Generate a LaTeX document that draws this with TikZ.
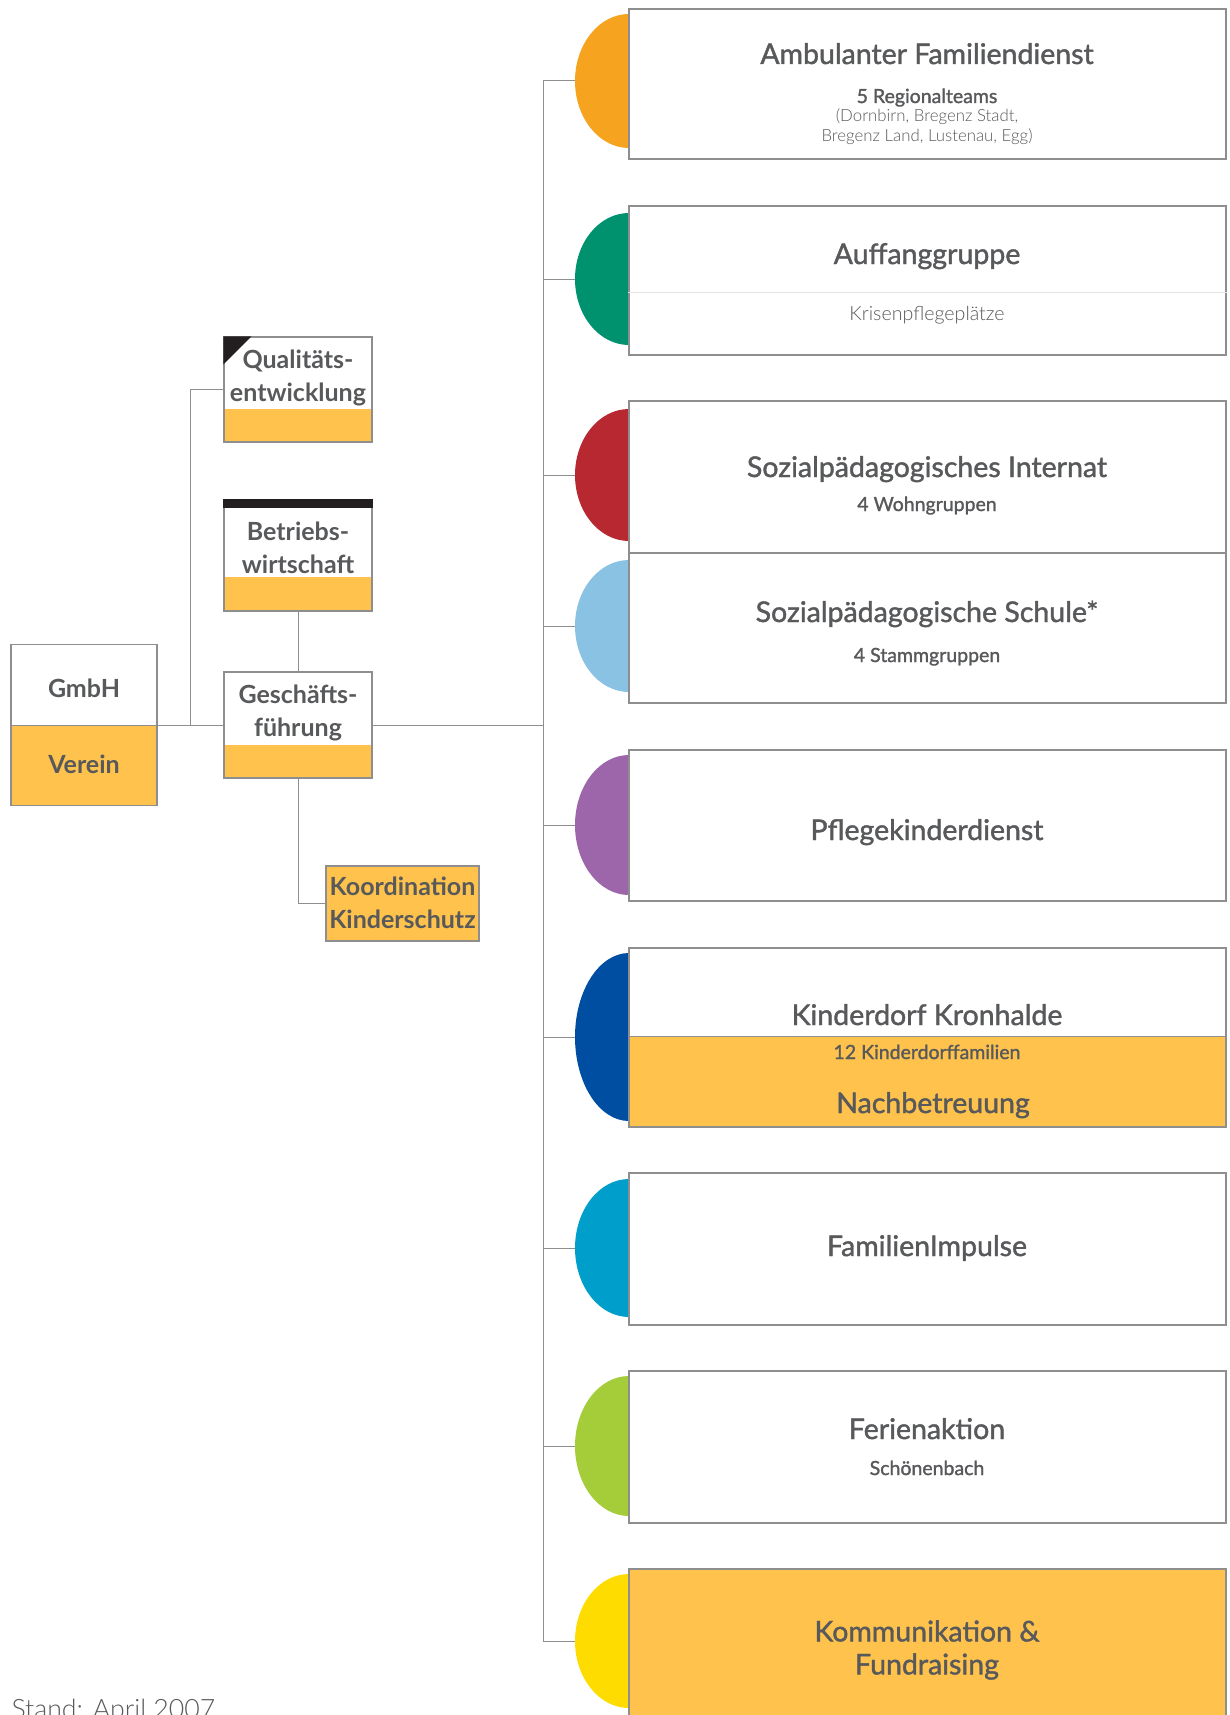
\documentclass[tikz,border=0pt]{standalone}
\usepackage{fontspec}
\setmainfont{Lato}
\newfontfamily\kdmed[FakeBold=1.4]{Lato}
\newfontfamily\kdlight{Lato Light}
\usetikzlibrary{shapes.geometric}
\usetikzlibrary{positioning}
\usepackage{xcolor}

\definecolor{kdorange}{HTML}{FEC24D}
\definecolor{kdtext}{HTML}{58595B}
\definecolor{kdline}{HTML}{8E8E8E}
\definecolor{kdsep}{HTML}{E2E2E2}
\definecolor{kdblack}{HTML}{231F20}
\definecolor{dotOrange}{HTML}{F6A41F}
\definecolor{dotGreen}{HTML}{00926F}
\definecolor{dotRed}{HTML}{B72830}
\definecolor{dotSky}{HTML}{8AC2E3}
\definecolor{dotPurple}{HTML}{9E66AA}
\definecolor{dotBlue}{HTML}{004EA2}
\definecolor{dotCyan}{HTML}{009FCB}
\definecolor{dotLime}{HTML}{A5CD39}
\definecolor{dotYellow}{HTML}{FFDC00}

\tikzset{
  rbox/.style={draw=kdline, line width=1.2pt, fill=white, minimum width=597pt, minimum height=#1, inner sep=0pt},
  lbox/.style={draw=kdline, line width=1.2pt, fill=white, minimum width=148pt, minimum height=#1, inner sep=0pt},
  foot/.style={path picture={\fill[kdorange] (path picture bounding box.south west) rectangle ([yshift=#1]path picture bounding box.south east);}},
  dot/.style={ellipse, fill=#1, minimum width=108pt, minimum height=134pt, inner sep=0pt},
  conn/.style={draw=kdline, line width=1pt},
  ttl/.style={text=kdtext, font=\kdmed\fontsize{28.5}{33}\selectfont, text height=20pt, text depth=0pt},
  subttl/.style={text=kdtext, font=\kdmed\fontsize{19.5}{23}\selectfont, text height=14pt, text depth=0pt},
  lighttxt/.style={text=kdtext, font=\kdlight\fontsize{#1}{1.2\dimexpr#1pt\relax}\selectfont, align=center},
  ltxt/.style={text=kdtext, font=\bfseries\fontsize{25}{33}\selectfont, align=center, inner sep=0pt},
}

\begin{document}
\begin{tikzpicture}[x=1pt, y=-1pt]
\useasboundingbox (0,0) rectangle (1230,1715);

% coloured half circles behind the boxes
\foreach \n/\y/\h/\c in {afd/81/134/dotOrange, auf/279/132/dotGreen, ipd/475/132/dotRed, sps/626/132/dotSky, pkd/825/140/dotPurple, kdk/1037/168/dotBlue, fip/1248/138/dotCyan, fer/1446/140/dotLime, kom/1641/134/dotYellow}
  \node[dot=\c, minimum height=\h pt] (dot\n) at (629,\y) {};

% service boxes
\node[rbox=150pt] (afd) at (927.5,84) {};
\node[rbox=149pt] (auf) at (927.5,280.5) {};
\node[rbox=152pt] (ipd) at (927.5,477) {};
\node[rbox=150pt] (sps) at (927.5,628) {};
\node[rbox=151pt] (pkd) at (927.5,825.5) {};
\node[rbox=179pt, foot=91pt] (kdk) at (927.5,1037.5) {};
\node[rbox=152pt] (fip) at (927.5,1249) {};
\node[rbox=152pt] (fer) at (927.5,1447) {};
\node[rbox=182pt, fill=kdorange] (kom) at (927.5,1660) {};

\draw[draw=kdsep, line width=1.5pt] ([yshift=-87pt]auf.north west) -- ([yshift=-87pt]auf.north east);
\draw[conn] ([yshift=91pt]kdk.south west) -- ([yshift=91pt]kdk.south east);

\node[ttl] (afdT) at (927,54) {Ambulanter Familiendienst};
\node[subttl] (afdS) at (927,96) {5 Regionalteams};
\node[lighttxt=16.8] (afdL) at (927,127) {(Dornbirn, Bregenz Stadt,\\Bregenz Land, Lustenau, Egg)};
\node[ttl] (aufT) at (927,254) {Auffanggruppe};
\node[lighttxt=19.6] (aufL) at (927,315) {Krisenpflegeplätze};
\node[ttl] (ipdT) at (927,467) {Sozialpädagogisches Internat};
\node[subttl] (ipdS) at (927,504) {4 Wohngruppen};
\node[ttl] (spsT) at (927,612) {Sozialpädagogische Schule*};
\node[subttl] (spsS) at (927,655) {4 Stammgruppen};
\node[ttl] (pkdT) at (927,830) {Pflegekinderdienst};
\node[ttl] (kdkT) at (927,1015) {Kinderdorf Kronhalde};
\node[subttl] (kdkS) at (927,1052) {12 Kinderdorffamilien};
\node[ttl] (kdkN) at (933,1103) {Nachbetreuung};
\node[ttl] (fipT) at (927,1246) {FamilienImpulse};
\node[ttl] (ferT) at (927,1429) {Ferienaktion};
\node[subttl] (ferS) at (927,1468) {Schönenbach};
\node[ttl, align=center, text height=, text depth=] (komT) at (927,1650) {Kommunikation \&\\Fundraising};

% left side
\node[lbox=161pt, minimum width=146pt, foot=81pt] (gmbh) at (84,725) {};
\draw[conn] ([yshift=81pt]gmbh.south west) -- ([yshift=81pt]gmbh.south east);
\node[ltxt] (gmbhT) at (84,688) {GmbH};
\node[ltxt] (vereinT) at (84,764) {Verein};

\node[lbox=105pt, foot=33pt] (qual) at (298,389.5) {};
\fill[kdblack] (qual.north west) -- ++(28,0) -- ++(-28,28) -- cycle;
\node[ltxt] (qualT) at (298,378) {Qualitäts-\\entwicklung};

\node[lbox=111pt, foot=34pt] (bw) at (298,555.5) {};
\fill[kdblack] (bw.north west) rectangle ([yshift=-9pt]bw.north east);
\node[ltxt] (bwT) at (298,548) {Betriebs-\\wirtschaft};

\node[lbox=106pt, foot=33pt] (gf) at (298,725) {};
\node[ltxt] (gfT) at (298,713) {Geschäfts-\\führung};

\node[lbox=75pt, minimum width=153pt, fill=kdorange] (koord) at (402.5,903.5) {};
\node[ltxt] (koordT) at (402.5,903) {Koordination\\Kinderschutz};

% connectors
\coordinate (trunk) at (543,0);
\coordinate (jq) at (190,725);
\draw[conn] (gmbh.east) -- (gf.west);
\draw[conn] (jq) |- (qual.west);
\draw[conn] (bw.south) -- (gf.north);
\draw[conn] (gf.south) |- (koord.west);
\draw[conn] (gf.east) -- (gf.east -| trunk);
\draw[conn] (dotafd.west -| trunk) -- (dotkom.west -| trunk);
\foreach \n in {afd,auf,ipd,sps,pkd,kdk,fip,fer,kom}
  \draw[conn] (dot\n.west -| trunk) -- (dot\n.west);

\node[lighttxt=26.7, anchor=base west] (stand) at (8,1718) {Stand: April 2007};
\end{tikzpicture}
\end{document}
